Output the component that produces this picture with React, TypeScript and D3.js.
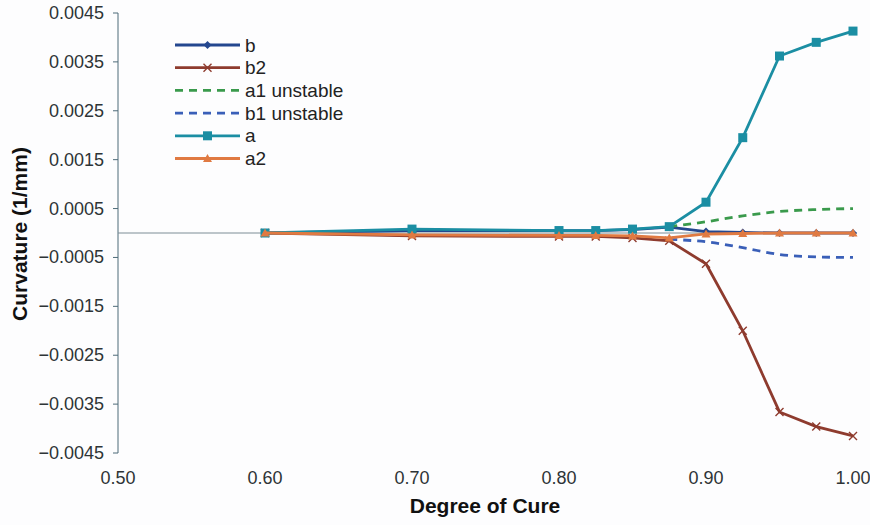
import React from "react";
import * as d3 from "d3";

const xValues = [0.6, 0.7, 0.8, 0.825, 0.85, 0.875, 0.9, 0.925, 0.95, 0.975, 1.0];
const bValues = [0, 0.00005, 0.00005, 0.00005, 0.00007, 0.00012, 0.00003, 0.00001, 0, 0, 0];
const b2Values = [0, -0.00006, -0.00007, -0.00007, -0.0001, -0.00016, -0.00063, -0.002, -0.00366, -0.00396, -0.00415];
const unstableX = [0.875, 0.9, 0.925, 0.95, 0.975, 1.0];
const a1UnstableValues = [0.00013, 0.00023, 0.00035, 0.00044, 0.00048, 0.0005];
const b1UnstableValues = [-0.00013, -0.00018, -0.0003, -0.00044, -0.00049, -0.0005];
const aValues = [0, 0.00008, 0.00005, 0.00005, 0.00008, 0.00013, 0.00063, 0.00195, 0.00362, 0.0039, 0.00413];
const a2Values = [0, -0.00004, -0.00005, -0.00005, -0.00006, -0.0001, -0.00002, -0.00001, 0, 0, 0];

const xTicks = [0.5, 0.6, 0.7, 0.8, 0.9, 1.0];
const yTicks = [0.0045, 0.0035, 0.0025, 0.0015, 0.0005, -0.0005, -0.0015, -0.0025, -0.0035, -0.0045];

type Series = {
  name: string;
  xs: number[];
  ys: number[];
  color: string;
  dash?: string;
  marker?: "diamond" | "x" | "square" | "triangle";
};

const series: Series[] = [
  { name: "b", xs: xValues, ys: bValues, color: "#24478f", marker: "diamond" },
  { name: "b2", xs: xValues, ys: b2Values, color: "#8e3b2e", marker: "x" },
  { name: "a1 unstable", xs: unstableX, ys: a1UnstableValues, color: "#3a9a4c", dash: "8,6" },
  { name: "b1 unstable", xs: unstableX, ys: b1UnstableValues, color: "#3a5fb8", dash: "8,6" },
  { name: "a", xs: xValues, ys: aValues, color: "#1b8ea3", marker: "square" },
  { name: "a2", xs: xValues, ys: a2Values, color: "#e07a42", marker: "triangle" },
];

const FONT = "'Liberation Sans', Arial, sans-serif";

function Marker({ type, x, y, color }: { type?: string; x: number; y: number; color: string }) {
  if (!type) return null;
  if (type === "diamond") {
    const s = 4;
    return <path d={`M${x},${y - s}L${x + s},${y}L${x},${y + s}L${x - s},${y}Z`} fill={color} />;
  }
  if (type === "square") {
    const s = 4.5;
    return <rect x={x - s} y={y - s} width={2 * s} height={2 * s} fill={color} />;
  }
  if (type === "triangle") {
    const s = 4.5;
    return <path d={`M${x},${y - s}L${x + s},${y + s * 0.8}L${x - s},${y + s * 0.8}Z`} fill={color} />;
  }
  if (type === "x") {
    const s = 4;
    return (
      <path
        d={`M${x - s},${y - s}L${x + s},${y + s}M${x - s},${y + s}L${x + s},${y - s}`}
        stroke={color}
        strokeWidth={1.4}
        fill="none"
      />
    );
  }
  return null;
}

export default function App() {
  const W = 870;
  const H = 525;
  const x = d3.scaleLinear().domain([0.5, 1.0]).range([118, 853]);
  const y = d3.scaleLinear().domain([-0.0045, 0.0045]).range([453, 13]);
  const line = d3
    .line<[number, number]>()
    .x((d) => x(d[0]))
    .y((d) => y(d[1]));
  const dashLine = d3
    .line<[number, number]>()
    .x((d) => x(d[0]))
    .y((d) => y(d[1]))
    .curve(d3.curveMonotoneX);

  const legendX0 = 175;
  const legendX1 = 240;
  const legendY0 = 45;
  const legendStep = 22.7;

  return (
    <svg
      width={W}
      height={H}
      style={{ position: "absolute", left: 0, top: 0, background: "#fdfdfe" }}
      fontFamily={FONT}
    >
      <rect x={0} y={0} width={W} height={H} fill="#fdfdfe" />
      {/* y axis */}
      <line x1={x(0.5)} x2={x(0.5)} y1={y(0.0045)} y2={y(-0.0045)} stroke="#4d6a78" strokeWidth={1} />
      {yTicks.map((t) => (
        <g key={t}>
          <line x1={x(0.5) - 5} x2={x(0.5)} y1={y(t)} y2={y(t)} stroke="#4d6a78" strokeWidth={1} />
          <text
            x={104}
            y={y(t)}
            textAnchor="end"
            dominantBaseline="central"
            fontSize={18}
            fill="#2e3436"
          >
            {d3.format(".4f")(t).replace("-", "\u2212")}
          </text>
        </g>
      ))}
      {/* x axis at zero */}
      <line x1={x(0.5)} x2={x(1.0) + 4} y1={y(0)} y2={y(0)} stroke="#7d8d96" strokeWidth={1} />
      {xTicks.map((t) => (
        <text key={t} x={x(t)} y={478} textAnchor="middle" dominantBaseline="central" fontSize={18} fill="#2e3436">
          {d3.format(".2f")(t)}
        </text>
      ))}
      <text x={485} y={513} textAnchor="middle" fontSize={21} fontWeight="bold" fill="#111">
        Degree of Cure
      </text>
      <text
        transform={`translate(27,${234}) rotate(-90)`}
        textAnchor="middle"
        fontSize={21}
        fontWeight="bold"
        fill="#111"
      >
        Curvature (1/mm)
      </text>
      {/* series */}
      {series.map((s) => {
        const pts: [number, number][] = s.xs.map((xv, i) => [xv, s.ys[i]]);
        return (
          <g key={s.name}>
            <path
              d={(s.dash ? dashLine(pts) : line(pts)) || ""}
              fill="none"
              stroke={s.color}
              strokeWidth={2.8}
              strokeDasharray={s.dash}
            />
            {pts.map((p, i) => (
              <Marker key={i} type={s.marker} x={x(p[0])} y={y(p[1])} color={s.color} />
            ))}
          </g>
        );
      })}
      {/* legend */}
      {series.map((s, i) => {
        const ly = legendY0 + i * legendStep;
        return (
          <g key={s.name}>
            <line
              x1={legendX0}
              x2={legendX1}
              y1={ly}
              y2={ly}
              stroke={s.color}
              strokeWidth={2.8}
              strokeDasharray={s.dash}
            />
            <Marker type={s.marker} x={(legendX0 + legendX1) / 2} y={ly} color={s.color} />
            <text x={245} y={ly} dominantBaseline="central" fontSize={19} fill="#222">
              {s.name}
            </text>
          </g>
        );
      })}
    </svg>
  );
}
